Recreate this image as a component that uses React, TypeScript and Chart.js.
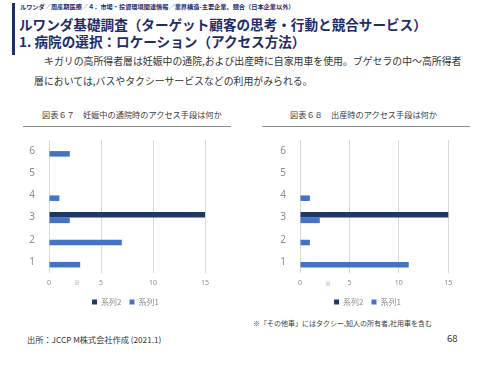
import React, { useEffect, useRef } from "react";
import { Chart, registerables } from "chart.js";

Chart.register(...registerables);

const CATEGORIES = ["1", "2", "3", "4", "5", "6"];
const SERIES_NAMES = ["系列2", "系列1"];
// Chart 67 (pregnancy visits)
const C67_S1 = [3, 7, 2, 1, null, 2];
const C67_S2 = [null, null, 15, null, null, null];
// Chart 68 (at delivery)
const C68_S1 = [11, 1, 2, 1, null, null];
const C68_S2 = [null, null, 15, null, null, null];
const X_TICKS = [0, 5, 10, 15];
const X_MAX = 17.5;

const JP = '"Noto Sans CJK JP", "Noto Sans", sans-serif';
const NAVY = "#1f2c6b";
const S1_COLOR = "#4472c4";
const S2_COLOR = "#203864";

function BarChart(props: { s1: (number | null)[]; s2: (number | null)[]; yWidth: number }) {
  const ref = useRef<HTMLCanvasElement>(null);
  useEffect(() => {
    const labels = [...CATEGORIES].reverse();
    const chart = new Chart(ref.current!, {
      type: "bar",
      data: {
        labels,
        datasets: [
          {
            label: SERIES_NAMES[0],
            data: [...props.s2].reverse(),
            backgroundColor: S2_COLOR,
            borderWidth: 0,
          },
          {
            label: SERIES_NAMES[1],
            data: [...props.s1].reverse(),
            backgroundColor: S1_COLOR,
            borderWidth: 0,
          },
        ],
      },
      options: {
        indexAxis: "y",
        animation: false,
        responsive: false,
        maintainAspectRatio: false,
        layout: { padding: { top: 5, right: 2, left: 0, bottom: 0 } },
        datasets: { bar: { categoryPercentage: 0.5, barPercentage: 1 } },
        scales: {
          x: {
            min: 0,
            max: X_MAX,
            afterBuildTicks: (scale: any) => {
              scale.ticks = X_TICKS.map((v) => ({ value: v }));
            },
            afterFit: (scale: any) => {
              scale.height = 17;
            },
            grid: { color: "#d9d9d9", drawTicks: false, lineWidth: 1 },
            border: { display: false },
            ticks: {
              font: { family: '"Noto Sans", sans-serif', size: 7 },
              color: "#8c8c8c",
              padding: 6,
            },
          },
          y: {
            afterFit: (scale: any) => {
              scale.width = props.yWidth;
            },
            grid: { display: false },
            border: { display: false },
            ticks: {
              font: { family: '"Noto Sans", sans-serif', size: 10 },
              color: "#8c8c8c",
              padding: 6,
            },
          },
        },
        plugins: {
          tooltip: { enabled: false },
          legend: {
            position: "bottom",
            labels: {
              boxWidth: 5,
              boxHeight: 5,
              padding: 8,
              color: "#8c8c8c",
              font: { family: JP, size: 8 },
            },
          },
        },
      },
    } as any);
    return () => chart.destroy();
  }, []);
  return <canvas ref={ref} width={213} height={188} />;
}

const abs = (left: number, top: number, extra: React.CSSProperties = {}): React.CSSProperties => ({
  position: "absolute",
  left,
  top,
  whiteSpace: "nowrap",
  fontFamily: JP,
  lineHeight: 1,
  ...extra,
});

export default function App() {
  return (
    <div style={{ position: "absolute", left: 0, top: 0, width: 500, height: 375, background: "#fff", overflow: "hidden" }}>
      <div style={{ position: "absolute", left: 12, top: 3, width: 3, height: 52, background: NAVY }} />
      <div style={abs(20, 4, { fontSize: 6.2, fontWeight: 700, color: NAVY })}>
        ルワンダ／周産期医療／４．市場・投資環境関連情報／業界構造-主要企業、競合（日本企業以外）
      </div>
      <div style={abs(19, 18, { fontSize: 13.6, fontWeight: 700, color: NAVY })}>
        ルワンダ基礎調査（ターゲット顧客の思考・行動と競合サービス）
      </div>
      <div style={abs(19, 35, { fontSize: 13.6, fontWeight: 700, color: NAVY })}>
        1. 病院の選択：ロケーション（アクセス方法）
      </div>
      <div style={abs(44, 57, { fontSize: 9.9, color: "#333" })}>
        キガリの高所得者層は妊娠中の通院,および出産時に自家用車を使用。ブゲセラの中～高所得者
      </div>
      <div style={abs(34, 77, { fontSize: 9.9, color: "#333" })}>
        層においては,バスやタクシーサービスなどの利用がみられる。
      </div>

      <div style={abs(42, 110, { fontSize: 8.2, color: "#404040" })}>図表６７　妊娠中の通院時のアクセス手段は何か</div>
      <div style={{ position: "absolute", left: 23, top: 126, width: 208, height: 1, background: "#8c8c8c" }} />
      <div style={{ position: "absolute", left: 20, top: 128 }}>
        <BarChart s1={C67_S1} s2={C67_S2} yWidth={29} />
      </div>
      <div style={abs(74, 280, { fontSize: 6, color: "#8c8c8c" })}>※</div>

      <div style={abs(290, 110, { fontSize: 8.2, color: "#404040" })}>図表６８　出産時のアクセス手段は何か</div>
      <div style={{ position: "absolute", left: 262, top: 126, width: 208, height: 1, background: "#8c8c8c" }} />
      <div style={{ position: "absolute", left: 262, top: 128 }}>
        <BarChart s1={C68_S1} s2={C68_S2} yWidth={38} />
      </div>
      <div style={abs(325, 281, { fontSize: 6, color: "#8c8c8c" })}>※</div>

      <div style={abs(253, 320, { fontSize: 7, color: "#404040" })}>※「その他車」にはタクシー,知人の所有者,社用車を含む</div>
      <div style={abs(27, 335, { fontSize: 8.2, color: "#333" })}>出所：JCCP M株式会社作成 (2021.1)</div>
      <div style={abs(447, 334, { fontSize: 9.5, color: "#333" })}>68</div>
    </div>
  );
}
